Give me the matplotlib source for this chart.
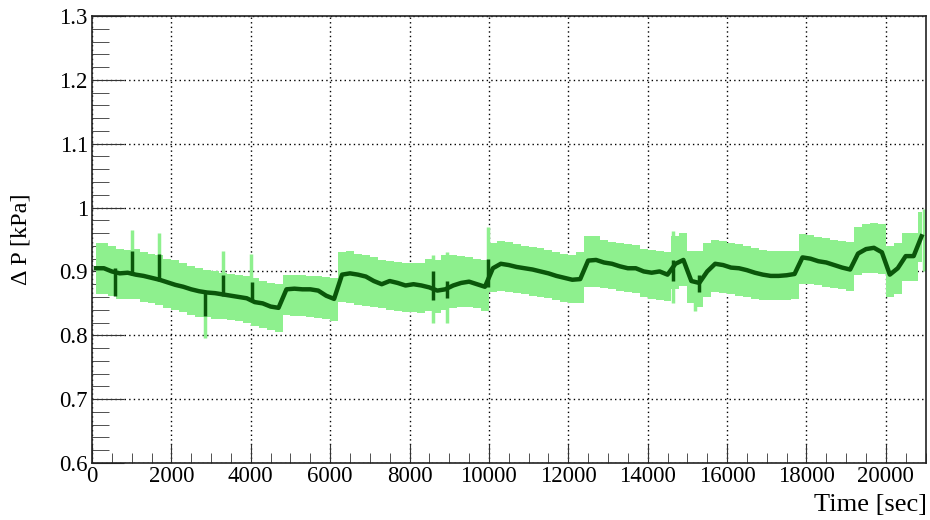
import matplotlib
matplotlib.use("Agg")
import matplotlib.pyplot as plt
from matplotlib.ticker import MultipleLocator, FixedLocator

# bin centres [sec], 200 s wide
time_s = list(range(100, 21000, 200))

# central value of Delta P [kPa]
dp_mean = [
    0.905, 0.905, 0.900, 0.897, 0.898, 0.895, 0.893, 0.890, 0.887, 0.883,
    0.879, 0.876, 0.872, 0.869, 0.867, 0.866, 0.864, 0.862, 0.860, 0.858,
    0.852, 0.850, 0.845, 0.843, 0.872, 0.873, 0.872, 0.872, 0.870, 0.862,
    0.857, 0.895, 0.897, 0.895, 0.892, 0.885, 0.880, 0.885, 0.882, 0.878,
    0.880, 0.878, 0.875, 0.870, 0.872, 0.878, 0.882, 0.884, 0.880, 0.876,
    0.905, 0.912, 0.910, 0.907, 0.905, 0.903, 0.900, 0.897, 0.893, 0.890,
    0.887, 0.888, 0.917, 0.918, 0.914, 0.912, 0.908, 0.905, 0.905, 0.900,
    0.898, 0.900, 0.895, 0.912, 0.918, 0.885, 0.882, 0.900, 0.912, 0.910,
    0.906, 0.905, 0.902, 0.898, 0.895, 0.893, 0.893, 0.894, 0.896, 0.922,
    0.920, 0.916, 0.914, 0.910, 0.906, 0.903, 0.928, 0.935, 0.937, 0.930,
    0.895, 0.905, 0.924, 0.924, 0.955,
]

# upper / lower edge of the error band
dp_hi = [
    0.945, 0.945, 0.940, 0.935, 0.934, 0.935, 0.930, 0.928, 0.925, 0.920,
    0.918, 0.914, 0.908, 0.906, 0.902, 0.900, 0.898, 0.896, 0.895, 0.893,
    0.890, 0.885, 0.882, 0.880, 0.895, 0.895, 0.895, 0.893, 0.893, 0.892,
    0.890, 0.930, 0.932, 0.928, 0.925, 0.922, 0.918, 0.916, 0.915, 0.914,
    0.914, 0.913, 0.920, 0.918, 0.925, 0.925, 0.924, 0.922, 0.920, 0.918,
    0.945, 0.948, 0.946, 0.943, 0.940, 0.938, 0.936, 0.934, 0.930, 0.928,
    0.926, 0.930, 0.955, 0.956, 0.950, 0.946, 0.945, 0.943, 0.942, 0.935,
    0.933, 0.932, 0.930, 0.955, 0.960, 0.932, 0.932, 0.945, 0.950, 0.948,
    0.945, 0.943, 0.940, 0.936, 0.933, 0.932, 0.932, 0.932, 0.932, 0.958,
    0.957, 0.954, 0.952, 0.950, 0.948, 0.946, 0.970, 0.975, 0.976, 0.975,
    0.940, 0.945, 0.960, 0.960, 0.993,
]
dp_lo = [
    0.865, 0.865, 0.862, 0.857, 0.857, 0.857, 0.852, 0.850, 0.847, 0.843,
    0.840, 0.836, 0.832, 0.828, 0.828, 0.826, 0.825, 0.824, 0.822, 0.820,
    0.815, 0.812, 0.808, 0.805, 0.832, 0.830, 0.830, 0.828, 0.827, 0.825,
    0.823, 0.852, 0.850, 0.848, 0.846, 0.845, 0.842, 0.840, 0.838, 0.836,
    0.836, 0.835, 0.838, 0.835, 0.840, 0.843, 0.845, 0.845, 0.842, 0.838,
    0.868, 0.870, 0.868, 0.866, 0.864, 0.862, 0.860, 0.858, 0.855, 0.852,
    0.850, 0.850, 0.876, 0.876, 0.874, 0.872, 0.870, 0.868, 0.866, 0.860,
    0.857, 0.855, 0.853, 0.872, 0.877, 0.850, 0.845, 0.860, 0.868, 0.866,
    0.864, 0.862, 0.860, 0.857, 0.856, 0.855, 0.855, 0.856, 0.857, 0.880,
    0.880, 0.878, 0.876, 0.874, 0.872, 0.870, 0.895, 0.897, 0.898, 0.896,
    0.860, 0.865, 0.885, 0.885, 0.915,
]

# single outlier error bars (light) and point excursions (dark)
spike_t = [1000, 1700, 2850, 3300, 4000, 8600, 8950, 9970, 14650, 15200, 20950]
spike_lo = [0.880, 0.870, 0.795, 0.840, 0.830, 0.820, 0.820, 0.870, 0.850, 0.838, 0.900]
spike_hi = [0.965, 0.960, 0.880, 0.932, 0.927, 0.925, 0.930, 0.970, 0.963, 0.930, 0.997]

jump_t = [580, 1000, 1700, 2850, 3300, 4020, 8600, 8950, 9970, 14650, 15300]
jump_lo = [0.862, 0.895, 0.885, 0.830, 0.862, 0.855, 0.855, 0.858, 0.875, 0.885, 0.868]
jump_hi = [0.905, 0.932, 0.927, 0.870, 0.895, 0.883, 0.900, 0.885, 0.920, 0.918, 0.895]

light = "#8ef08e"
dark = "#0a560a"

plt.rcParams["font.family"] = "Liberation Serif"
fig = plt.figure(figsize=(9.3, 5.2), dpi=100)
ax = fig.add_axes([0.0989, 0.1096, 0.8963, 0.8596])

ax.fill_between(time_s, dp_lo, dp_hi, step="mid", color=light, lw=0, zorder=2)
ax.vlines(spike_t, spike_lo, spike_hi, color=light, lw=2.5, zorder=2)
ax.plot(time_s, dp_mean, color=dark, lw=3.2, zorder=3)
ax.vlines(jump_t, jump_lo, jump_hi, color=dark, lw=2.5, zorder=3)

ax.set_xlim(0, 21000)
ax.set_ylim(0.6, 1.3)

ax.xaxis.set_major_locator(MultipleLocator(2000))
ax.xaxis.set_minor_locator(MultipleLocator(500))
yt = [0.6, 0.7, 0.8, 0.9, 1.0, 1.1, 1.2, 1.3]
ax.yaxis.set_major_locator(FixedLocator(yt))
ax.set_yticklabels(["0.6", "0.7", "0.8", "0.9", "1", "1.1", "1.2", "1.3"])
ax.yaxis.set_minor_locator(MultipleLocator(0.02))

ax.tick_params(axis="both", which="both", direction="in", top=False, right=False,
               labelsize=16.5, color="#333333")
ax.tick_params(axis="x", which="major", length=14, pad=2)
ax.tick_params(axis="x", which="minor", length=7)
ax.tick_params(axis="y", which="major", length=23, pad=3)
ax.tick_params(axis="y", which="minor", length=12)

ax.grid(True, which="major", color="black", linestyle=(0, (1, 2.3)), lw=1.0, zorder=1)
ax.set_axisbelow(True)
for side in ax.spines:
    ax.spines[side].set_linewidth(1.2)
    ax.spines[side].set_color("#222222")

ax.set_xlabel("Time [sec]", fontsize=19, ha="right", va="top")
ax.xaxis.set_label_coords(1.002, -0.07)
ax.set_ylabel("Δ P [kPa]", fontsize=17.5)
ax.yaxis.set_label_coords(-0.072, 0.50)

fig.savefig("out.png", dpi=100)
